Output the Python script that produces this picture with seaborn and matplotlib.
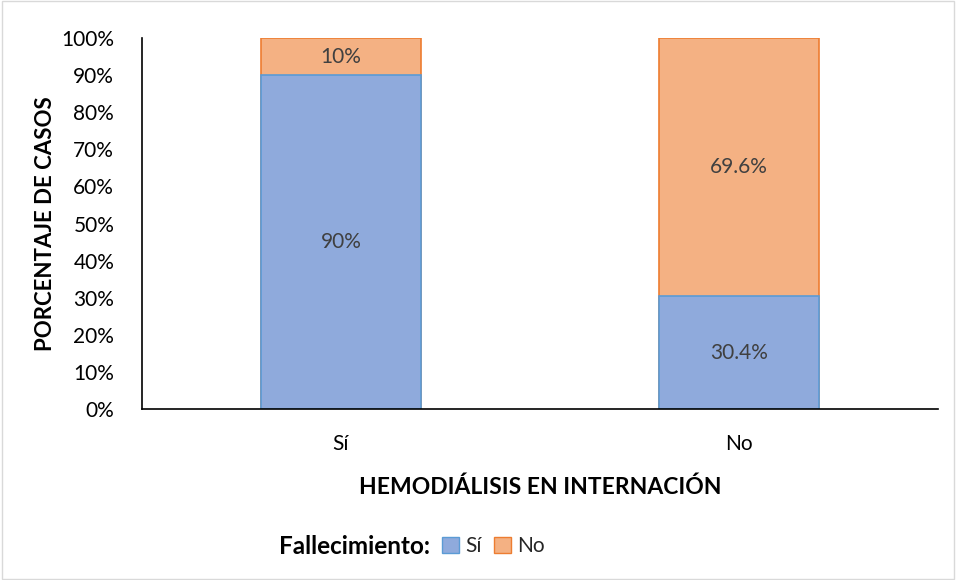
import matplotlib
matplotlib.use("Agg")
import matplotlib.pyplot as plt
import seaborn as sns
import pandas as pd
import numpy as np
from matplotlib.patches import Patch, Rectangle
from matplotlib.ticker import FuncFormatter

categories = ["Sí", "No"]
fallec_si = [90.0, 30.4]
fallec_no = [10.0, 69.6]
si_labels = ["90%", "30.4%"]
no_labels = ["10%", "69.6%"]
yticks = [0, 10, 20, 30, 40, 50, 60, 70, 80, 90, 100]

sns.set_theme(style="white")
plt.rcParams["font.family"] = ["Lato", "DejaVu Sans"]

blue_fill, blue_edge = "#8FAADC", "#5B9BD5"
orange_fill, orange_edge = "#F4B183", "#ED7D31"
txt = "#404040"

fig = plt.figure(figsize=(9.56, 5.8), dpi=100)
ax = fig.add_axes([142/956, 1-409/580, (938-142)/956, (409-38)/580])

totals = [a + b for a, b in zip(fallec_si, fallec_no)]
df_tot = pd.DataFrame({"cat": categories, "val": totals})
df_si = pd.DataFrame({"cat": categories, "val": fallec_si})

sns.barplot(data=df_tot, x="cat", y="val", ax=ax, color=orange_fill,
            edgecolor=orange_edge, linewidth=1.2, width=0.40, saturation=1)
sns.barplot(data=df_si, x="cat", y="val", ax=ax, color=blue_fill,
            edgecolor=blue_edge, linewidth=1.2, width=0.40, saturation=1)

for i in range(len(categories)):
    ax.text(i, fallec_si[i] / 2, si_labels[i], ha="center", va="center",
            fontsize=15, color=txt)
    ax.text(i, fallec_si[i] + fallec_no[i] / 2, no_labels[i], ha="center",
            va="center", fontsize=15, color=txt)

ax.set_xlim(-0.5, 1.5)
ax.set_ylim(0, 100)
ax.set_yticks(yticks)
ax.yaxis.set_major_formatter(FuncFormatter(lambda v, p: f"{int(v)}%"))
ax.tick_params(axis="y", labelsize=15, colors="black", length=0, pad=20)
ax.tick_params(axis="x", labelsize=15, colors="black", length=0, pad=18)
for s in ["top", "right"]:
    ax.spines[s].set_visible(False)
for s in ["left", "bottom"]:
    ax.spines[s].set_color("black")
    ax.spines[s].set_linewidth(1.2)

ax.set_xlabel("HEMODIÁLISIS EN INTERNACIÓN", fontsize=16.5, fontweight="bold",
              color="black", labelpad=16)
ax.set_ylabel("PORCENTAJE DE CASOS", fontsize=16, fontweight="bold",
              color="black", labelpad=4)

fig.text(430/956, 1-546/580, "Fallecimiento:", ha="right", va="center",
         fontsize=17.5, fontweight="bold", color="black")
handles = [Patch(facecolor=blue_fill, edgecolor=blue_edge, label=categories[0]),
           Patch(facecolor=orange_fill, edgecolor=orange_edge, label=categories[1])]
fig.legend(handles=handles, loc="center left", bbox_to_anchor=(442/956, 1-546/580),
           ncol=2, frameon=False, fontsize=15, handlelength=0.8, handleheight=0.8,
           handletextpad=0.3, columnspacing=0.6, borderpad=0, borderaxespad=0)

fig.patches.append(Rectangle((0.002, 0.002), 0.996, 0.996, transform=fig.transFigure,
                             fill=False, edgecolor="#D9D9D9", linewidth=1))

fig.savefig("out.png", dpi=100)
